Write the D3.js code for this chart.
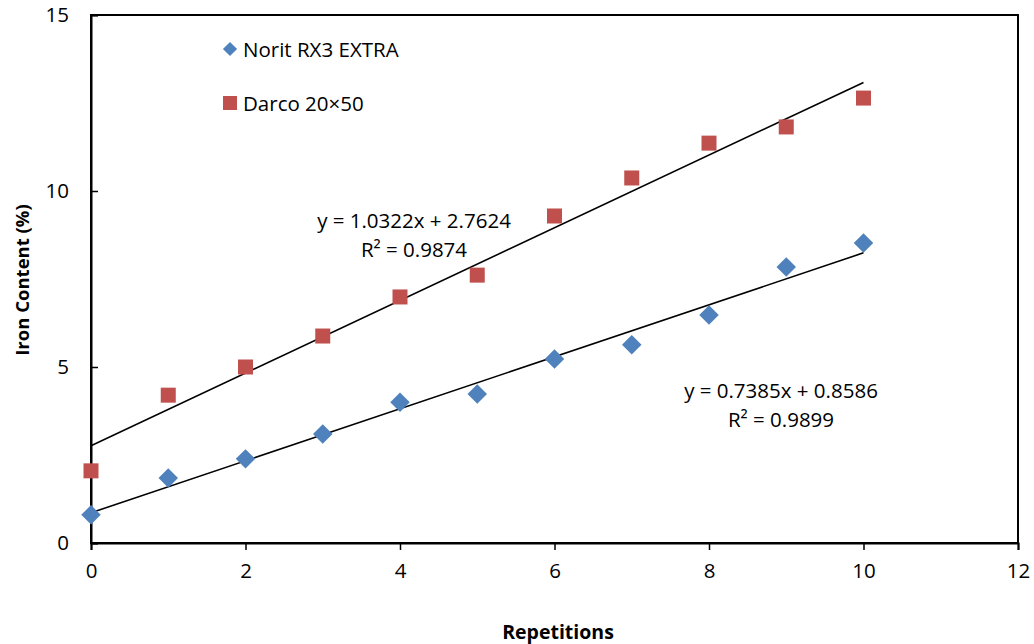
<!DOCTYPE html>
<html><head><meta charset="utf-8">
<script src="https://cdn.jsdelivr.net/npm/d3@7"></script>
<style>body{margin:0;background:#fff}svg{display:block;font-family:"Open Sans",sans-serif}</style>
</head><body><svg id="c" width="1034" height="644"></svg>
<script>
const repetitions = [0,1,2,3,4,5,6,7,8,9,10];
const noritValues = [0.80,1.85,2.39,3.10,4.00,4.23,5.23,5.63,6.48,7.84,8.52];
const darcoValues = [2.05,4.20,5.00,5.88,6.99,7.61,9.29,10.37,11.36,11.82,12.64];
const seriesNames = ["Norit RX3 EXTRA","Darco 20×50"];
const trendSlopes = [0.7385,1.0322];
const trendIntercepts = [0.8586,2.7624];
const trendLabels = [["y = 0.7385x + 0.8586","R² = 0.9899"],["y = 1.0322x + 2.7624","R² = 0.9874"]];
const xTicks = [0,2,4,6,8,10,12];
const yTicks = [0,5,10,15];

const svg = d3.select("#c");
const L=91,R=1018,T=15,B=543;
const x = d3.scaleLinear().domain([0,12]).range([L,R]);
const y = d3.scaleLinear().domain([0,15]).range([B,T]);
const blue="#4F81BD", red="#C0504D";
const FS=20.5;

svg.append("rect").attr("x",L).attr("y",T).attr("width",R-L).attr("height",B-T)
  .attr("fill","none").attr("stroke","#000").attr("stroke-width",2);

const xa = svg.append("g").attr("transform",`translate(0,${B})`)
  .call(d3.axisBottom(x).tickValues(xTicks).tickSize(7).tickPadding(13).tickFormat(d3.format("d")));
xa.select(".domain").attr("stroke-width",2);
xa.selectAll(".tick line").attr("stroke-width",1.5);
xa.selectAll("text").attr("font-size",FS).attr("font-family","Open Sans").attr("fill","#000");

const ya = svg.append("g").attr("transform",`translate(${L},0)`)
  .call(d3.axisLeft(y).tickValues(yTicks).tickSize(-7).tickPadding(22).tickFormat(d3.format("d")));
ya.select(".domain").attr("stroke-width",2);
ya.selectAll(".tick line").attr("stroke-width",1.5);
ya.selectAll("text").attr("font-size",FS).attr("font-family","Open Sans").attr("fill","#000");

svg.append("text").attr("x",558).attr("y",639).attr("text-anchor","middle")
  .attr("font-size",19.5).attr("font-weight","bold").text("Repetitions");
svg.append("text").attr("transform","translate(29,280) rotate(-90)").attr("text-anchor","middle")
  .attr("font-size",18.5).attr("font-weight","bold").text("Iron Content (%)");

[0,1].forEach(i=>{
  svg.append("line").attr("x1",x(0)).attr("y1",y(trendIntercepts[i]))
    .attr("x2",x(10)).attr("y2",y(trendIntercepts[i]+trendSlopes[i]*10))
    .attr("stroke","#000").attr("stroke-width",1.6);
});

const diamond = d3.symbol().type(d3.symbolSquare).size(190);
svg.selectAll(".n").data(repetitions).enter().append("path")
  .attr("d",diamond).attr("fill",blue)
  .attr("transform",(d,i)=>`translate(${x(d)},${y(noritValues[i])}) rotate(45)`);
svg.selectAll(".d").data(repetitions).enter().append("rect")
  .attr("x",d=>x(d)-7.5).attr("y",(d,i)=>y(darcoValues[i])-7.5)
  .attr("width",15).attr("height",15).attr("fill",red);

svg.append("path").attr("d",d3.symbol().type(d3.symbolSquare).size(100)())
  .attr("fill",blue).attr("transform","translate(230,49) rotate(45)");
svg.append("text").attr("x",243).attr("y",57).attr("font-size",FS).text(seriesNames[0]);
svg.append("rect").attr("x",223).attr("y",96).attr("width",14).attr("height",14).attr("fill",red);
svg.append("text").attr("x",243).attr("y",111).attr("font-size",FS).text(seriesNames[1]);

const labPos=[[781,398],[414,228]];
[0,1].forEach(i=>{
  svg.append("text").attr("x",labPos[i][0]).attr("y",labPos[i][1]).attr("text-anchor","middle")
    .attr("font-size",FS).text(trendLabels[i][0]);
  svg.append("text").attr("x",labPos[i][0]).attr("y",labPos[i][1]+29).attr("text-anchor","middle")
    .attr("font-size",FS).text(trendLabels[i][1]);
});
</script></body></html>
